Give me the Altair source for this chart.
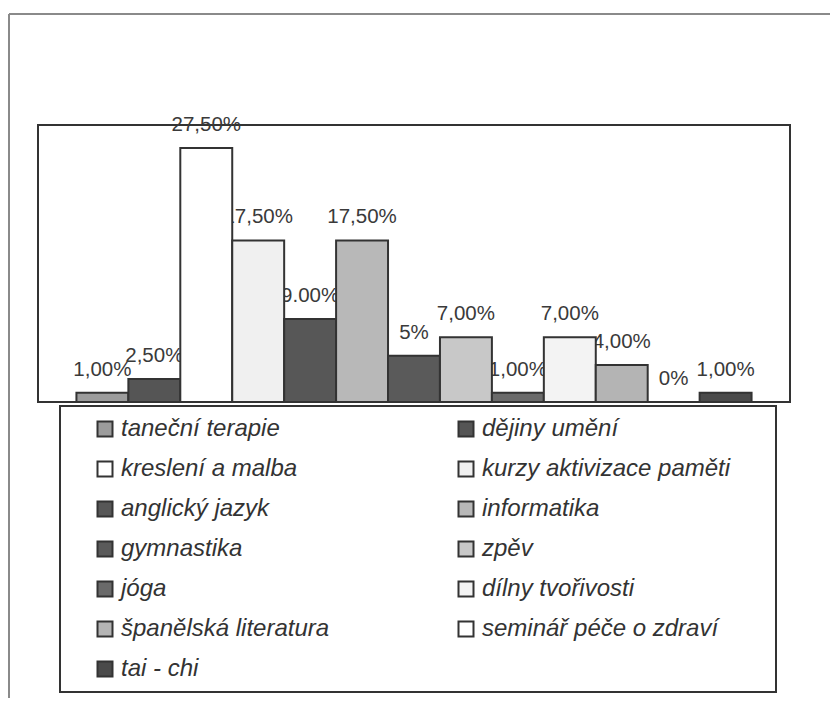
import altair as alt
import pandas as pd

categories = ["taneční terapie", "dějiny umění", "kreslení a malba",
              "kurzy aktivizace paměti", "anglický jazyk", "informatika",
              "gymnastika", "zpěv", "jóga", "dílny tvořivosti",
              "španělská literatura", "seminář péče o zdraví", "tai - chi"]
values = [1.0, 2.5, 27.5, 17.5, 9.0, 17.5, 5.0, 7.0, 1.0, 7.0, 4.0, 0.0, 1.0]
labels = ["1,00%", "2,50%", "27,50%", "17,50%", "9.00%", "17,50%", "5%",
          "7,00%", "1,00%", "7,00%", "4,00%", "0%", "1,00%"]
fills = ["#9c9c9c", "#555555", "#ffffff", "#f0f0f0", "#575757", "#b8b8b8",
         "#5a5a5a", "#c8c8c8", "#6a6a6a", "#f3f3f3", "#b4b4b4", "#ffffff",
         "#4a4a4a"]

df = pd.DataFrame({"cat": categories, "val": values, "lab": labels})
dummy = pd.DataFrame({"k": [0]})

x = alt.X("cat:N", sort=categories, axis=None,
          scale=alt.Scale(paddingInner=0, paddingOuter=0.74))
y = alt.Y("val:Q", axis=None, scale=alt.Scale(domain=[0, 30], nice=False, zero=True))

text = alt.Chart(df).mark_text(
    font="Liberation Sans", fontSize=20.5, color="#3a3a3a", dy=-23,
    baseline="middle", align="center"
).encode(x=x, y=y, text="lab:N")

bars = alt.Chart(df).mark_bar(stroke="#333333", strokeWidth=2).encode(
    x=x, y=y,
    color=alt.Color(
        "cat:N", sort=categories,
        scale=alt.Scale(domain=categories, range=fills),
        legend=alt.Legend(
            title=" ", titleOrient="right", titlePadding=35, titleColor="white",
            orient="none", legendX=22, legendY=281, columns=2,
            direction="horizontal",
            columnPadding=102, rowPadding=16, padding=11,
            symbolType="square", symbolSize=225, symbolStrokeColor="#333333",
            symbolStrokeWidth=2, symbolOffset=22, labelOffset=4,
            labelFont="Liberation Sans", labelFontSize=24,
            labelFontStyle="italic", labelColor="#333333", labelLimit=400,
            strokeColor="#333333", fillColor="white",
        ),
    ),
)

frame_top = alt.Chart(dummy).mark_rule(color="#8a8a8a", strokeWidth=2).encode(
    x=alt.value(-29), x2=alt.value(800), y=alt.value(-111))
frame_left = alt.Chart(dummy).mark_rule(color="#8a8a8a", strokeWidth=2).encode(
    x=alt.value(-29), y=alt.value(-111), y2=alt.value(600))

chart = alt.layer(frame_top, frame_left, text, bars).properties(
    width=752, height=277,
    autosize=alt.AutoSizeParams(type="none"),
    padding={"left": 30, "top": 117, "right": 40, "bottom": 296},
).configure_view(stroke="#333333", strokeWidth=2).configure_legend(strokeWidth=2)

chart.save("out.html", embed_options={"renderer": "svg", "actions": False})
